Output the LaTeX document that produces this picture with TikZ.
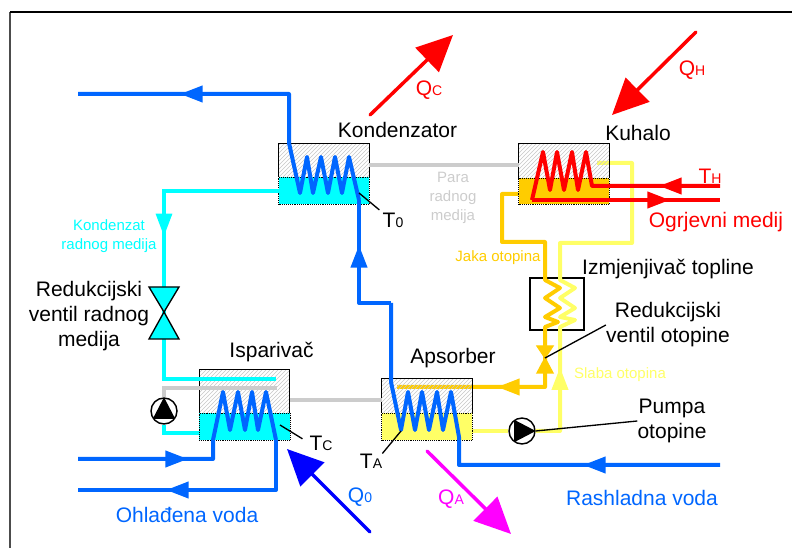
\documentclass[tikz,border=0pt]{standalone}
\usepackage{fontspec}
\setmainfont{Liberation Sans}
\usetikzlibrary{arrows.meta,patterns,decorations.markings}
\definecolor{vodablue}{HTML}{0066FF}
\definecolor{tamnoblue}{HTML}{0000FF}
\definecolor{medijcyan}{HTML}{00FFFF}
\definecolor{jakagold}{HTML}{FFCC00}
\definecolor{slabayellow}{HTML}{FFFF66}
\definecolor{paragray}{HTML}{CCCCCC}
\definecolor{grijared}{HTML}{FF0000}
\definecolor{apsmagenta}{HTML}{FF00FF}
\newcommand{\sublab}[2]{#1{\fontsize{10.5pt}{10.5pt}\selectfont #2}}
\newcommand{\vesselbody}[3]{
\fill[hatched] (#1.north west) rectangle (#1.east |- 0,#2);
\path[liquid,fill=#3] (#1.south west) rectangle (#1.east |- 0,#2);
\draw[shell] (#1.west |- 0,#2) |- (#1.north east) -- (#1.east |- 0,#2);
}
\tikzset{
pipe/.style={line width=3pt,line join=round},
thinpipe/.style={line width=2.4pt},
flow/.style={postaction={decorate},decoration={markings,mark=at position #1*0.75pt with {\arrow{Triangle[length=17pt,width=12pt]}}}},
vessel/.style={minimum width=67.5pt,inner sep=0pt},
hatched/.style={pattern=north east lines,pattern color=black!22},
liquid/.style={draw=black,line width=0.4pt,densely dotted},
shell/.style={draw=black,line width=1pt},
heat/.style={line width=2.6pt,line cap=round,-{Triangle[length=27pt,width=25pt]}},
lead/.style={draw=black,line width=1pt},
biglab/.style={font=\fontsize{15.75pt}{18.75pt}\selectfont,align=center,inner sep=0pt},
smalllab/.style={font=\fontsize{11.25pt}{14pt}\selectfont,align=center,inner sep=0pt},
valvebody/.style={draw=black,line width=1pt},
pumpbody/.style={circle,draw=black,fill=white,line width=1.1pt,minimum size=19.5pt,inner sep=0pt}
}
\begin{document}
\begin{tikzpicture}[x=0.75pt,y=-0.75pt]
\useasboundingbox (0,0) rectangle (792,548);
\draw[black!70,line width=1.1pt] (10,548) -- (10,12);
\draw[black,line width=1.1pt] (10,12) -- (792,12);

\node[vessel,minimum height=45pt] (kond) at (324,174) {};
\node[vessel,minimum height=45pt] (kuh) at (564,174) {};
\node[vessel,minimum height=52.5pt] (isp) at (244.5,405) {};
\node[vessel,minimum height=45.75pt] (aps) at (427,409.5) {};
\node[shell,minimum width=40.5pt,minimum height=39pt,inner sep=0pt] (izmj) at (557,304) {};
\node[pumpbody] (pumpisp) at (164,411) {};
\node[pumpbody] (pumpaps) at (522,431) {};
\coordinate (vrad) at (164,312);
\coordinate (vot) at (545,358);

\draw[pipe,jakagold,flow=-100] (kuh.west |- 0,194) -| (502,242) -| (545,280) -- (560,288) -- (545,298) -- (560,308) -- (545,317) -- (558,322) -- (545,327) -- (vot) |- (397,387);
\draw[thinpipe,slabayellow] (aps.east |- pumpaps) -- (pumpaps);
\draw[pipe,slabayellow,flow=88] (pumpaps) -| (560,327) -- (575,320) -- (560,317) -- (575,308) -- (560,298) -- (575,288) -- (560,280) |- (632,243) |- (597,163);

\vesselbody{kond}{177}{medijcyan}
\vesselbody{kuh}{178}{jakagold}
\vesselbody{isp}{413}{medijcyan}
\vesselbody{aps}{413}{slabayellow}

\draw[thinpipe,paragray] (kond.east |- 0,165) -- (kuh.west |- 0,165);
\draw[thinpipe,paragray] (isp.east |- 0,400) -- (aps.west |- 0,400);
\draw[thinpipe,paragray] (pumpisp) |- (277,388);

\draw[thinpipe,medijcyan,flow=160] (kond.west |- 0,191) -| (vrad);
\draw[thinpipe,medijcyan] (vrad) |- (276,379);
\draw[thinpipe,medijcyan] (pumpisp) |- (isp.west |- 0,433);

\draw[pipe,vodablue,flow=137] (720,465) -| (459,437) -- (451,392) -- (443,430) -- (437,392) -- (429,430) -- (422,392) -- (415,430) -- (408,392) -- (401,430) -- (391,382) -- (391,303);
\draw[pipe,vodablue,flow=-45] (391,303) -- (359,303) -- (359,200);
\draw[pipe,vodablue,flow=-102] (359,200) -- (349,157) -- (342,193) -- (335,157) -- (328,193) -- (321,157) -- (313,193) -- (307,157) -- (300,193) -- (289,143) |- (78,94);
\draw[pipe,vodablue,flow=110] (78,459) -| (213,440) -- (223,392) -- (230,430) -- (238,392) -- (245,430) -- (252,392) -- (258,430) -- (266,392) -- (276,440);
\draw[pipe,vodablue,flow=-88] (276,440) |- (78,490);
\draw[pipe,grijared,flow=61] (720,186) -- (592,186) -- (586,152) -- (578,190) -- (572,152) -- (564,190) -- (557,152) -- (550,190) -- (543,152) -- (532,200);
\draw[pipe,grijared,flow=-50] (532,200) -- (720,200);

\draw[valvebody,fill=medijcyan] (vrad) -- ++(-15,-25) -- ++(30,0) -- cycle (vrad) -- ++(-15,27) -- ++(30,0) -- cycle;
\draw[valvebody,fill=jakagold,draw=jakagold] (vot) -- ++(-8,-12) -- ++(16,0) -- cycle (vot) -- ++(-8,15) -- ++(16,0) -- cycle;

\fill (pumpisp.north) -- (pumpisp.-145) -- (pumpisp.-35) -- cycle;
\fill (pumpaps.east) -- (pumpaps.125) -- (pumpaps.-125) -- cycle;

\coordinate (qcs) at (370,115);
\coordinate (qce) at (453,35);
\coordinate (qhs) at (696,32);
\coordinate (qhe) at (612,115);
\coordinate (qos) at (370,532);
\coordinate (qoe) at (287,449);
\coordinate (qas) at (427,451);
\coordinate (qae) at (511,534);
\draw[heat,grijared] (qcs) -- (qce);
\draw[heat,grijared] (qhs) -- (qhe);
\draw[heat,tamnoblue] (qos) -- (qoe);
\draw[heat,apsmagenta] (qas) -- (qae);

\node[biglab] (kondlab) at (397.5,130) {Kondenzator};
\node[biglab] (kuhlab) at (638,133) {Kuhalo};
\node[biglab] (isplab) at (271.5,352) {Isparivač};
\node[biglab] (apslab) at (453,358) {Apsorber};
\node[biglab] (izmjlab) at (668,269) {Izmjenjivač topline};
\node[biglab] (vradlab) at (89,316) {Redukcijski\\ventil radnog\\medija};
\node[biglab] (votlab) at (668,325) {Redukcijski\\ventil otopine};
\node[biglab] (pumplab) at (672,421) {Pumpa\\otopine};
\node[biglab] (tolab) at (393,220) {\sublab{T}{0}};
\node[biglab] (tclab) at (321,443) {\sublab{T}{C}};
\node[biglab] (talab) at (371,461) {\sublab{T}{A}};
\node[biglab,text=grijared] (thlab) at (710,176) {\sublab{T}{H}};
\node[biglab,text=grijared] (qclab) at (429,90) {\sublab{Q}{C}};
\node[biglab,text=grijared] (qhlab) at (692,70) {\sublab{Q}{H}};
\node[biglab,text=vodablue] (qolab) at (360,497) {\sublab{Q}{0}};
\node[biglab,text=apsmagenta] (qalab) at (451,499) {\sublab{Q}{A}};
\node[biglab,text=grijared] (ogrlab) at (716,222) {Ogrjevni medij};
\node[biglab,text=vodablue] (rashlab) at (642,498) {Rashladna voda};
\node[biglab,text=vodablue] (ohllab) at (187,515) {Ohlađena voda};
\node[smalllab,text=medijcyan] (kondmlab) at (109,236) {Kondenzat\\radnog medija};
\node[smalllab,text=paragray] (paralab) at (453,198) {Para\\radnog\\medija};
\node[smalllab,text=jakagold] (jakalab) at (498,258) {Jaka otopina};
\node[smalllab,text=slabayellow] (slabalab) at (620,375) {Slaba otopina};

\draw[lead,shorten >=3pt] (359,193) -- (tolab.north west);
\draw[lead,shorten >=6pt] (280,425) -- (tclab.west);
\draw[lead] (401,431) -- (talab.north east);
\draw[lead] (vot) -- (votlab.west);
\draw[lead] (pumpaps.east) -- (pumplab.west);
\end{tikzpicture}
\end{document}
